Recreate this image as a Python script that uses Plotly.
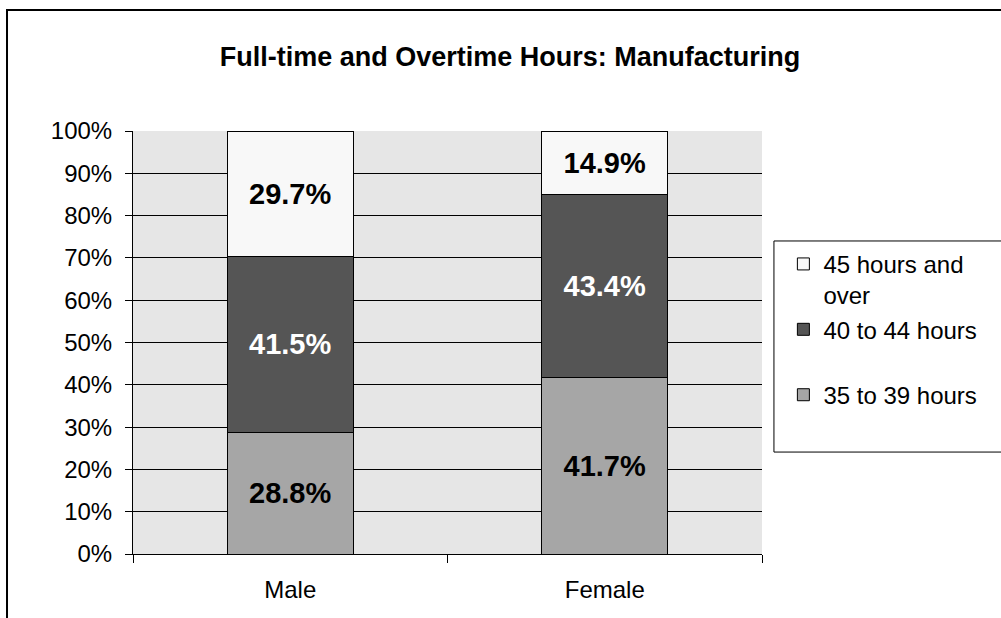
import plotly.graph_objects as go

# data
groups = ["Male", "Female"]
series_names = ["35 to 39 hours<br>\u00a0", "40 to 44 hours<br>\u00a0", "45 hours and<br>over"]
hrs_35_39 = [28.8, 41.7]
hrs_40_44 = [41.5, 43.4]
hrs_45_over = [29.7, 14.9]

bar_colors = ["#a6a6a6", "#555555", "#f8f8f8"]
text_colors = ["black", "white", "black"]

fig = go.Figure()

for name, vals, col, tcol in zip(series_names, [hrs_35_39, hrs_40_44, hrs_45_over],
                                 bar_colors, text_colors):
    fig.add_trace(go.Bar(
        x=groups,
        y=[v / 100 for v in vals],
        name=name,
        marker=dict(color=col, line=dict(color="black", width=1)),
        text=["%.1f%%" % v for v in vals],
        textposition="inside",
        insidetextanchor="middle",
        textangle=0,
        constraintext="none",
        textfont=dict(family="Arial, Liberation Sans", size=29, color=tcol, weight="bold"),
        width=0.4,
        hoverinfo="skip",
    ))

# outer frame and legend box
fig.add_shape(type="rect", xref="paper", yref="paper",
              x0=-0.2003, x1=1.6, y0=-0.3, y1=1.286,
              line=dict(color="black", width=2), layer="below")
fig.add_shape(type="rect", xref="paper", yref="paper",
              x0=1.019, x1=1.6, y0=0.241, y1=0.740,
              line=dict(color="black", width=1), fillcolor="white", layer="below")

fig.update_layout(
    barmode="stack",
    width=1001, height=618,
    margin=dict(l=133, r=239, t=131, b=64),
    paper_bgcolor="white",
    plot_bgcolor="#e6e6e6",
    font=dict(family="Arial, Liberation Sans", size=24, color="black"),
    title=dict(text="<b>Full-time and Overtime Hours: Manufacturing</b>",
               x=0.5095, xanchor="center", y=0.908, yanchor="middle",
               font=dict(size=27)),
    legend=dict(x=1.034, xanchor="left", y=0.738, yanchor="top",
                traceorder="reversed", bgcolor="rgba(0,0,0,0)",
                font=dict(size=24), tracegroupgap=9, valign="top"),
    showlegend=True,
)

fig.update_xaxes(
    showline=True, linecolor="black", linewidth=1,
    ticks="outside", ticklen=8, tickcolor="black", tickson="boundaries",
    showgrid=False, tickfont=dict(size=24), ticklabelstandoff=14,
)
fig.update_yaxes(
    range=[0, 1], dtick=0.1, tickformat=".0%",
    showline=True, linecolor="black", linewidth=1,
    ticks="outside", ticklen=7, tickcolor="black",
    showgrid=True, gridcolor="black", gridwidth=1,
    tickfont=dict(size=24), zeroline=False, ticklabelstandoff=8,
)

fig.write_html("out.html", config={"displayModeBar": False},
               post_script="document.body.style.margin='0';")
